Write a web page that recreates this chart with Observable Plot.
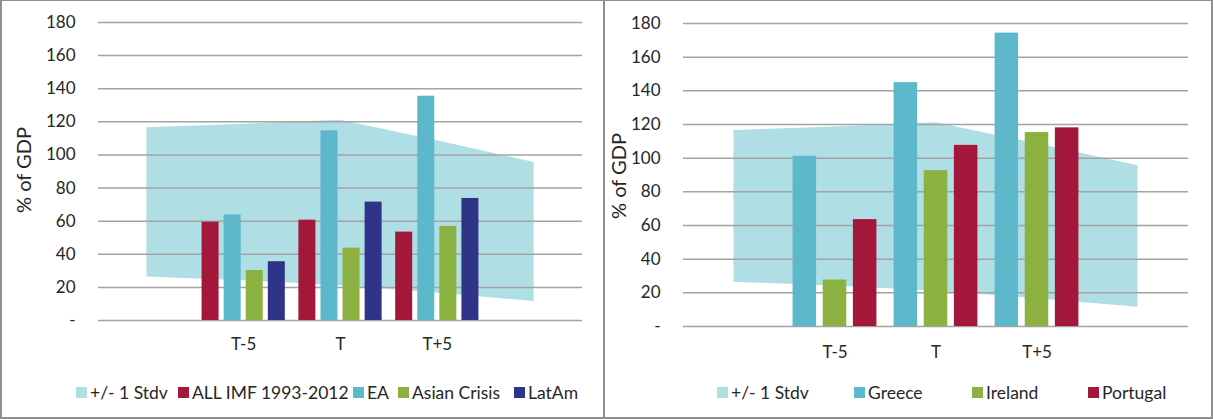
<!DOCTYPE html>
<html>
<head>
<meta charset="utf-8">
<script src="https://cdn.jsdelivr.net/npm/d3@7"></script>
<script src="https://cdn.jsdelivr.net/npm/@observablehq/plot@0.6"></script>
<style>
  html, body { margin: 0; padding: 0; background: #fff; }
  body { font-family: Lato, "Open Sans", sans-serif; color: #262626; }
  #frame { position: relative; width: 1213px; height: 419px; }
  .panel { position: absolute; top: 0; height: 419px; box-sizing: border-box;
           border: 2px solid #8f8f8f; border-top-width: 1px; overflow: hidden; }
  .panel svg { position: absolute; left: 0; top: 0; }
  .ytitle { position: absolute; font-size: 20px; white-space: nowrap;
            transform: translate(-50%, -50%) rotate(-90deg); }
  .legend { position: absolute; left: 0; right: 0; height: 22px; font-size: 17.5px; white-space: nowrap; }
  .legend .item { position: absolute; top: 0; height: 22px; display: flex; align-items: center; }
  .legend .sw { width: 11px; height: 11px; margin-right: 3px; }
</style>
</head>
<body>
<div id="frame">
  <div class="panel" id="left" style="left:0;width:605px;"></div>
  <div class="panel" id="right" style="left:603px;width:610px;"></div>
</div>
<script>
// ---- data ----
const categories = ["T-5", "T", "T+5"];
// the +/- 1 stdv band: five slots (an empty slot before T-5 and after T+5)
const bandSlots = [0, 1, 2, 3, 4];
const stdvHigh = [116.5, 118.5, 121, 108.5, 95.5];
const stdvLow = [26.3, 24, 21, 16.5, 11.5];
const bandLabel = "+/- 1 Stdv";

const leftSeries = ["ALL IMF 1993-2012", "EA", "Asian Crisis", "LatAm"];
const allImf = [59.4, 60.6, 53.4];
const ea = [63.8, 114.6, 135.5];
const asianCrisis = [30.2, 43.7, 56.8];
const latAm = [35.5, 71.5, 73.7];

const rightSeries = ["Greece", "Ireland", "Portugal"];
const greece = [101.1, 144.9, 174.3];
const ireland = [27.6, 92.6, 115.2];
const portugal = [63.5, 107.6, 118.0];

const yTicks = [0, 20, 40, 60, 80, 100, 120, 140, 160, 180];
const yTitle = "% of GDP";

// ---- styles ----
const BAND = "#b0dee5", TEAL = "#5eb8cc", CRIMSON = "#a3173a", GREEN = "#8bb240", NAVY = "#303488";
const GRID = "#a3a3a3";

function panel(container, opts) {
  const {series, values, colors, width, height, marginLeft, marginRight, marginTop, marginBottom,
         groupWidth, padInner, xPad, titleX, titleY, legendY, legendSlots} = opts;
  const inner = d3.scaleBand().domain(series).range([-groupWidth / 2, groupWidth / 2]).paddingInner(padInner);
  const bars = categories.flatMap((c, i) => series.map((s, k) => ({
    series: s, value: values[k][i],
    x1: i + 1 + inner(s), x2: i + 1 + inner(s) + inner.bandwidth()
  })));
  const band = bandSlots.map((s, i) => ({slot: s, low: stdvLow[i], high: stdvHigh[i]}));
  const chart = Plot.plot({
    width, height, marginLeft, marginRight, marginTop, marginBottom,
    style: {fontFamily: "Lato, 'Open Sans', sans-serif", fontSize: "17px", color: "#262626", background: "transparent"},
    x: {domain: [-0.5, 4.5], ticks: [1, 2, 3], tickFormat: i => categories[i - 1], tickSize: 0, tickPadding: xPad, label: null},
    y: {domain: [0, 180], ticks: yTicks, tickFormat: d => d === 0 ? "-" : String(d), tickSize: 0, tickPadding: 23, label: null},
    color: {domain: series, range: colors},
    marks: [
      Plot.areaY(band, {x: "slot", y1: "low", y2: "high", fill: BAND}),
      Plot.ruleY(yTicks, {stroke: GRID, strokeWidth: 1.5}),
      Plot.rectY(bars, {x1: "x1", x2: "x2", y1: 0, y2: "value", fill: "series"})
    ]
  });
  container.appendChild(chart);

  const t = document.createElement("div");
  t.className = "ytitle";
  t.textContent = yTitle;
  t.style.left = titleX + "px";
  t.style.top = titleY + "px";
  container.appendChild(t);

  const lg = document.createElement("div");
  lg.className = "legend";
  lg.style.top = legendY + "px";
  const items = [[bandLabel, BAND], ...series.map((s, k) => [s, colors[k]])];
  items.forEach(([label, col], idx) => {
    const it = document.createElement("div");
    it.className = "item";
    it.style.left = legendSlots[idx] + "px";
    const sw = document.createElement("div");
    sw.className = "sw";
    sw.style.background = col;
    const tx = document.createElement("span");
    tx.textContent = label;
    it.appendChild(sw); it.appendChild(tx);
    lg.appendChild(it);
  });
  container.appendChild(lg);
}

// left panel: inner origin at page (2, 1)
panel(document.getElementById("left"), {
  series: leftSeries, values: [allImf, ea, asianCrisis, latAm],
  colors: [CRIMSON, TEAL, GREEN, NAVY],
  width: 601, height: 365, marginLeft: 96, marginRight: 21, marginTop: 21, marginBottom: 46,
  groupWidth: 0.86, padInner: 0.23, xPad: 17,
  titleX: 21, titleY: 169, legendY: 380, legendSlots: [74, 176, 351, 396, 512]
});
// right panel: inner origin at page (605, 1)
panel(document.getElementById("right"), {
  series: rightSeries, values: [greece, ireland, portugal],
  colors: [TEAL, GREEN, CRIMSON],
  width: 606, height: 365, marginLeft: 78, marginRight: 23, marginTop: 22, marginBottom: 40,
  groupWidth: 0.83, padInner: 0.22, xPad: 19,
  titleX: 13, titleY: 175, legendY: 380, legendSlots: [112, 249, 367, 483]
});
</script>
</body>
</html>
